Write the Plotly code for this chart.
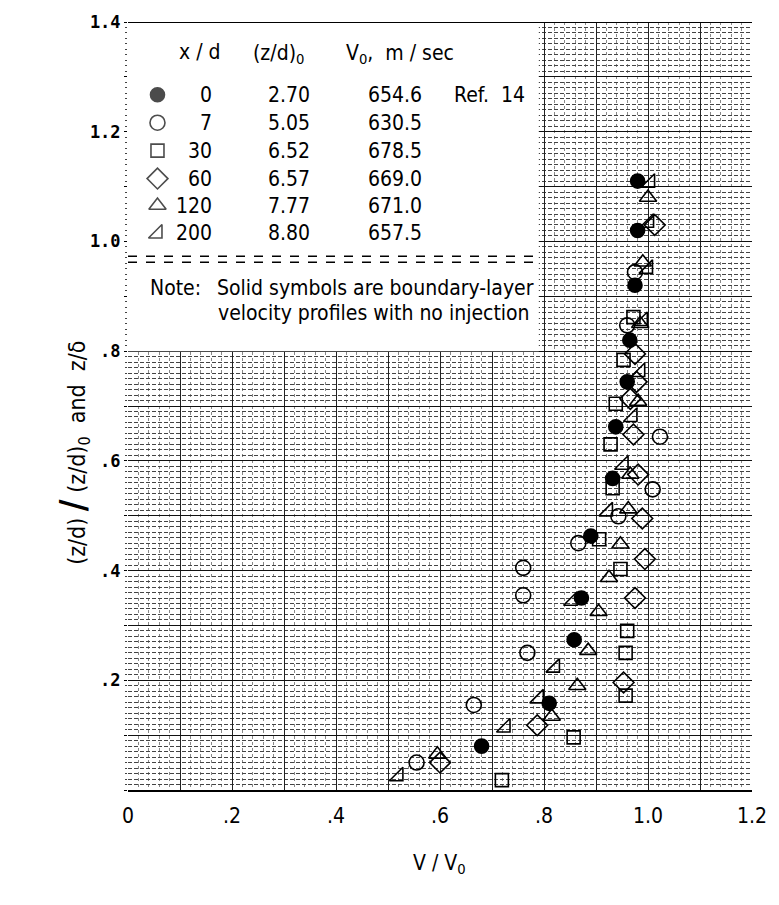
import plotly.graph_objects as go

# ---- velocity profiles: V/V0 (x) against normalized height (y) ----
xd0_v = [0.68, 0.81, 0.858, 0.872, 0.89, 0.932, 0.938, 0.96, 0.965, 0.975, 0.98, 0.98]
xd0_z = [0.08, 0.158, 0.274, 0.35, 0.463, 0.568, 0.662, 0.744, 0.82, 0.92, 1.02, 1.11]

xd7_v = [0.555, 0.665, 0.768, 0.76, 0.76, 0.866, 0.943, 1.009, 1.023, 0.96, 0.975]
xd7_z = [0.05, 0.155, 0.25, 0.355, 0.405, 0.45, 0.499, 0.548, 0.644, 0.847, 0.944]

xd30_v = [0.719, 0.857, 0.957, 0.957, 0.96, 0.947, 0.906, 0.932, 0.928, 0.938, 0.953, 0.972]
xd30_z = [0.018, 0.096, 0.172, 0.25, 0.29, 0.403, 0.457, 0.55, 0.63, 0.704, 0.784, 0.862]

xd60_v = [0.60, 0.787, 0.953, 0.975, 0.994, 0.989, 0.981, 0.972, 0.966, 0.978, 0.975, 1.013]
xd60_z = [0.05, 0.118, 0.196, 0.35, 0.421, 0.495, 0.575, 0.648, 0.713, 0.744, 0.795, 1.03]

xd120_v = [0.595, 0.815, 0.864, 0.885, 0.905, 0.925, 0.947, 0.962, 0.966, 0.981, 0.985, 0.99, 1.0]
xd120_z = [0.065, 0.134, 0.19, 0.254, 0.325, 0.387, 0.448, 0.512, 0.575, 0.708, 0.85, 0.962, 1.08]

xd200_v = [0.52, 0.726, 0.79, 0.821, 0.855, 0.923, 0.953, 0.97, 0.985, 0.99, 1.0, 1.002, 1.004]
xd200_z = [0.025, 0.114, 0.167, 0.223, 0.345, 0.508, 0.593, 0.68, 0.762, 0.855, 0.95, 1.034, 1.107]

# ---- key table ----
key_xd = ["0", "7", "30", "60", "120", "200"]
key_zd0 = ["2.70", "5.05", "6.52", "6.57", "7.77", "8.80"]
key_v0 = ["654.6", "630.5", "678.5", "669.0", "671.0", "657.5"]
key_symbols = ["circle", "circle-open", "square-open", "diamond-open",
               "triangle-up-open", "triangle-se-open"]
key_sizes = [14, 15, 13, 16, 15, 15]

x_ticks = [round(0.1 * i, 1) for i in range(13)]
x_text = ["0", "", ".2", "", ".4", "", ".6", "", ".8", "", "1.0", "", "1.2"]
y_ticks = [round(0.1 * i, 1) for i in range(15)]
y_text = ["", "", ".2", "", ".4", "", ".6", "", ".8", "", "1.0", "", "1.2", "", "1.4"]

W, H = 779, 905
ML, MR, MT, MB = 128, 16, 20, 115
PW, PH = W - ML - MR, H - MT - MB


def fx(px):
    return (px - ML) / PW


def fy(py):
    return (H - MB - py) / PH


NARROW = "Liberation Sans Narrow, DejaVu Sans Condensed, Liberation Sans, sans-serif"
MONO = "DejaVu Sans Mono, Liberation Mono, monospace"

series = [
    (xd0_v, xd0_z), (xd7_v, xd7_z), (xd30_v, xd30_z),
    (xd60_v, xd60_z), (xd120_v, xd120_z), (xd200_v, xd200_z),
]

fig = go.Figure()
for (v, z), sym, sz in zip(series, key_symbols, key_sizes):
    fig.add_trace(go.Scatter(
        x=v, y=z, mode="markers", showlegend=False, cliponaxis=False,
        marker=dict(symbol=sym, size=sz, color="black",
                    line=dict(color="black", width=1.6)),
    ))

# key glyphs on an overlay axis spanning the plot area 0..1
key_rows = [93, 121, 149, 177, 204, 232]
fig.add_trace(go.Scatter(
    x=[fx(158)] * 6, y=[fy(r) for r in key_rows], xaxis="x2", yaxis="y2",
    mode="markers", showlegend=False,
    marker=dict(symbol=key_symbols, size=key_sizes, color="black",
                line=dict(color="black", width=1.6)),
))

ann = []


def txt(text, px, py, anchor="left", size=21, font=NARROW):
    ann.append(dict(text=text, x=fx(px), y=fy(py), xref="paper", yref="paper",
                    xanchor=anchor, yanchor="middle", showarrow=False,
                    font=dict(family=font, size=size, color="black")))


txt("x / d", 201, 50, "center")
txt("(z/d)<sub>0</sub>", 253, 52)
txt("V<sub>0</sub>,  m / sec", 348, 52)
for r, a, b, c in zip(key_rows, key_xd, key_zd0, key_v0):
    txt(a, 216, r, "right")
    txt(b, 268, r, "left")
    txt(c, 429, r, "right")
txt("Ref.  14", 458, key_rows[0])
txt("Note:", 148, 287)
txt("Solid symbols are boundary-layer", 217, 287)
txt("velocity profiles with no injection", 218, 312)

# axis titles
ann.append(dict(text="V / V<sub>0</sub>", x=fx(445), y=fy(864), xref="paper", yref="paper",
                xanchor="center", yanchor="middle",
                showarrow=False, font=dict(family=NARROW, size=21, color="black")))
ann.append(dict(
    text="(z/d) <span style='font-size:36px'><b>/</b></span> (z/d)<sub>0</sub>  and  z/δ",
    x=fx(72), y=fy(452), xref="paper", yref="paper", textangle=-90,
    xanchor="center", yanchor="middle",
    showarrow=False, font=dict(family=NARROW, size=23, color="black")))

shapes = [
    # blank panel holding the key and note
    dict(type="rect", xref="x", yref="y", x0=0, x1=0.79, y0=0.8, y1=1.4,
         fillcolor="white", line=dict(width=0), layer="between"),
    # top border
    dict(type="line", xref="x", yref="y", x0=0, x1=1.2, y0=1.4, y1=1.4,
         line=dict(color="black", width=2), layer="above"),
    # double rule under the key table
    dict(type="line", xref="x", yref="y", x0=0, x1=0.79, y0=0.973, y1=0.973,
         line=dict(color="black", width=1.5, dash="dash"), layer="above"),
    dict(type="line", xref="x", yref="y", x0=0, x1=0.79, y0=0.962, y1=0.962,
         line=dict(color="black", width=1.5, dash="dash"), layer="above"),
]

fig.update_layout(
    width=W, height=H, margin=dict(l=ML, r=MR, t=MT, b=MB),
    paper_bgcolor="white", plot_bgcolor="white",
    annotations=ann, shapes=shapes,
    xaxis=dict(range=[0, 1.2], tickmode="array", tickvals=x_ticks, ticktext=x_text,
               showgrid=True, gridcolor="#222", gridwidth=1, zeroline=False,
               showline=True, linecolor="black", linewidth=2,
               ticks="", ticklabelstandoff=6,
               tickfont=dict(family=NARROW, size=21, color="black"),
               minor=dict(dtick=0.02, showgrid=True, gridcolor="#888",
                          griddash="dot", gridwidth=1)),
    yaxis=dict(range=[0, 1.4], tickmode="array", tickvals=y_ticks, ticktext=y_text,
               showgrid=True, gridcolor="#111", gridwidth=1, zeroline=False,
               showline=False, ticks="outside", ticklen=3, tickcolor="black",
               tickfont=dict(family=MONO, size=17, color="black", weight="bold"),
               minor=dict(dtick=0.01, showgrid=True, gridcolor="#444",
                          griddash="4px,2px", gridwidth=1, ticks="outside",
                          ticklen=2, tickcolor="#444")),
    xaxis2=dict(overlaying="x", range=[0, 1], visible=False, anchor="y2"),
    yaxis2=dict(overlaying="y", range=[0, 1], visible=False, anchor="x2"),
)

fig.write_html("out.html")
